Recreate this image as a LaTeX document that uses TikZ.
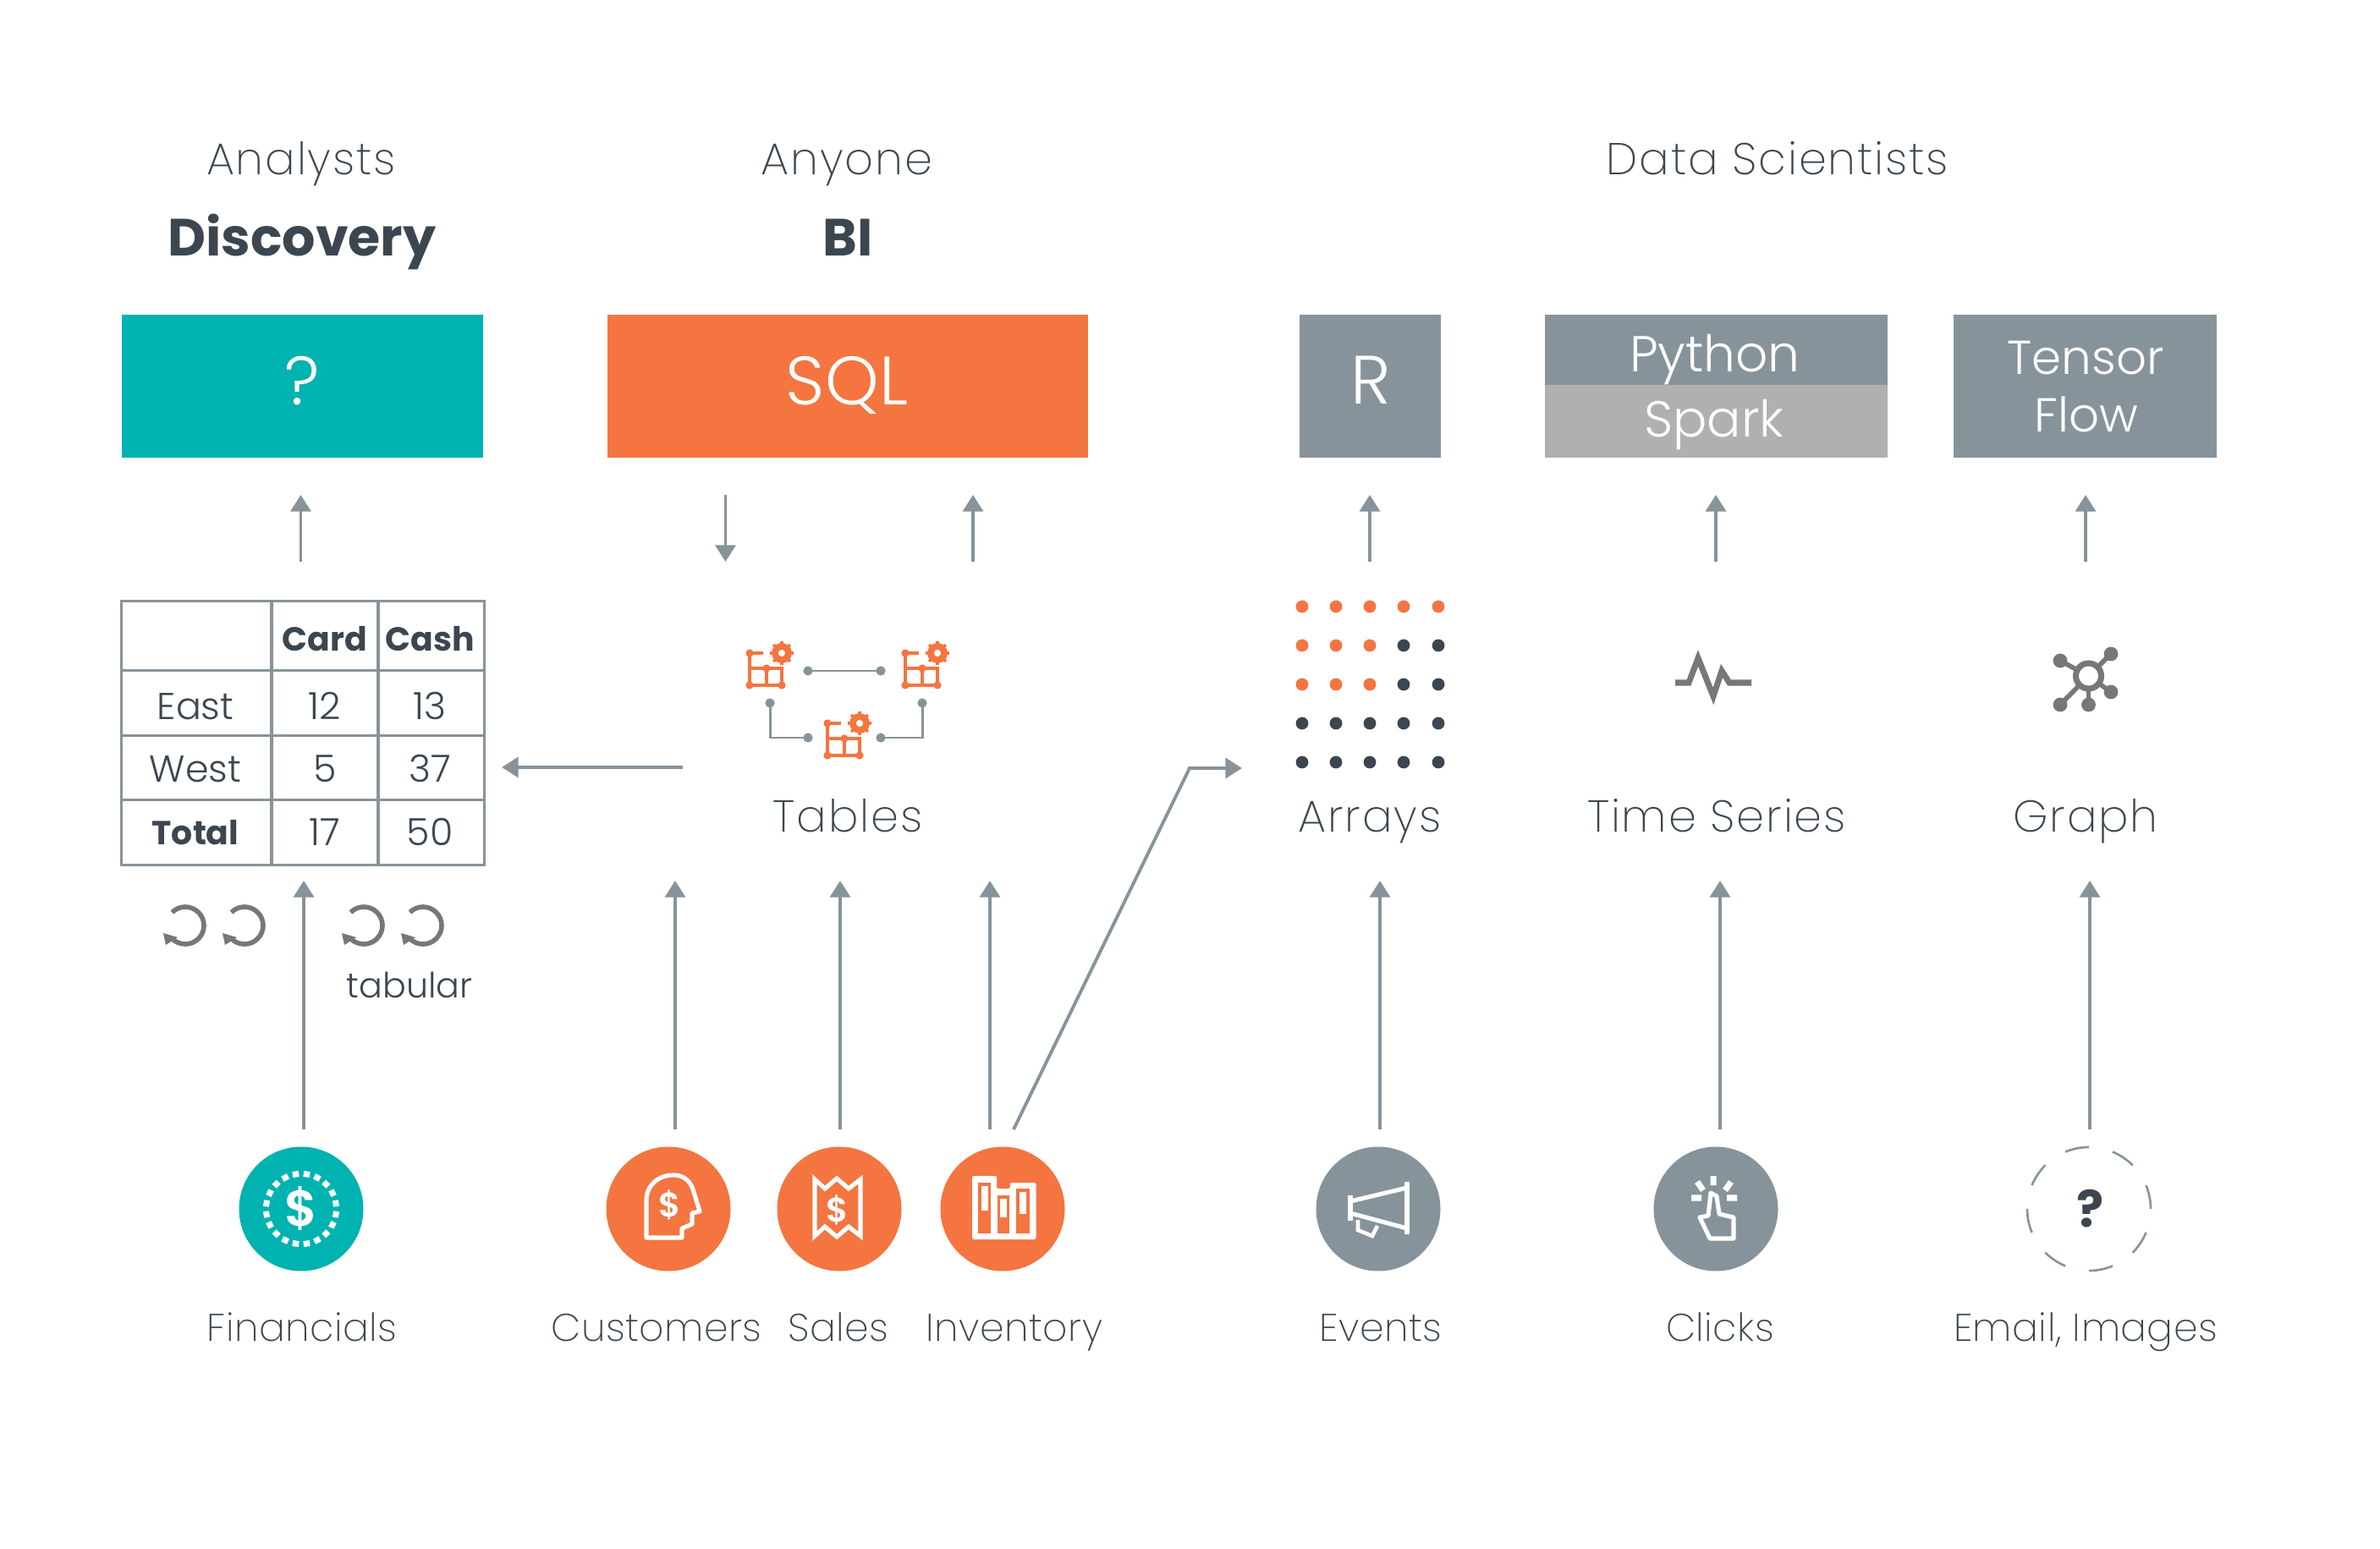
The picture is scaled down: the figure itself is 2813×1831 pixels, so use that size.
\documentclass[tikz,border=0pt]{standalone}
\usepackage{fontspec}
\setmainfont{Poppins}[UprightFont=* Light,BoldFont=* Bold]
\newfontfamily\medfont{Poppins}[UprightFont=*]
\newfontfamily\sbfont{Poppins}[UprightFont=* SemiBold]
\newfontfamily\xlfont{Poppins}[UprightFont=* ExtraLight,LetterSpace=3.5]
\newfontfamily\xlbfont{Poppins}[UprightFont=* ExtraLight,LetterSpace=1]
\usetikzlibrary{arrows.meta}
\definecolor{teal}{HTML}{00B3B0}
\definecolor{orng}{HTML}{F47540}
\definecolor{slate}{HTML}{87939A}
\definecolor{lgray}{HTML}{B0B0B0}
\definecolor{ink}{HTML}{3B4650}
\definecolor{mgray}{HTML}{777777}
\newcommand{\fsz}[1]{\fontsize{#1pt}{#1pt}\selectfont}
\tikzset{
  txt/.style={anchor=base,inner sep=0},
  head/.style={txt,text=ink,font=\xlfont\fsz{15}},
  headb/.style={txt,text=ink,font=\fsz{17.6}\bfseries},
  lab/.style={txt,text=ink,font=\xlfont\fsz{15}},
  lowl/.style={txt,text=ink,font=\xlbfont\fsz{13}},
  cell/.style={txt,text=ink,font=\fsz{12.6}},
  cellb/.style={txt,text=ink,font=\fsz{11.2}\bfseries},
  boxt/.style={txt,text=white,font=\fsz{23}},
  boxs/.style={txt,text=white,font=\fsz{17}},
  arr/.style={draw=slate,line width=1.1pt,-{Triangle[length=5.6pt,width=6.8pt]}},
  thin/.style={draw=slate,line width=.85pt},
  wl/.style={draw=white,line width=1.45pt,line join=miter},
  orl/.style={draw=orng,line width=.95pt},
  recy/.style={draw=mgray,line width=1.6pt},
  tline/.style={slate,line width=1.05pt},
  dollar/.style={text=white,inner sep=0,font=\sbfont\fsz{11.5}},
}
\newcommand{\tblicon}[2]{% x, y of lower-left corner
  \begin{scope}[shift={(#1,#2)}]
    \draw[orl] (16,-38)--(0,-38)--(0,0)--(38,0)--(38,-20)--(0,-20) (20,0)--(20,-20);
    \foreach \a/\b in {0/-38,0/0,38/0,20/-20}{\fill[orng] (\a,\b) circle (4.6);}
    \foreach \t in {0,45,...,315}{\draw[orng,line width=1pt] (38,-38)++(\t:9)--++(\t:5);}
    \draw[orng,line width=2.2pt] (38,-38) circle (8);
  \end{scope}
}
\begin{document}
\begin{tikzpicture}[x=0.2845pt,y=-0.2845pt]
\useasboundingbox[fill=white] (0,0) rectangle (2813,1831);
% headers
\node[head] (hA) at (356,206.5) {Analysts};
\node[head] (hB) at (1001,206.5) {Anyone};
\node[head] (hC) at (2101,206.5) {Data Scientists};
\node[headb] (hD) at (357,303) {Discovery};
\node[headb] (hE) at (1002,303) {BI};
% top boxes
\fill[teal] (143.5,372) rectangle (570.5,541);
\fill[orng] (717.5,372) rectangle (1286,541);
\fill[slate] (1536,372) rectangle (1703,541);
\fill[slate] (1826,372) rectangle (2231,455);
\fill[lgray] (1826,455) rectangle (2231,541);
\fill[slate] (2309,372) rectangle (2620,541);
\node[boxt] (bQ) at (357,479) {?};
\node[boxt] (bS) at (1001,479) {SQL};
\node[boxt] (bR) at (1620,478) {R};
\node[boxs] (bP) at (2027,440) {Python};
\node[boxs] (bK) at (2026,517) {Spark};
\node[boxs,font=\fsz{16}] (bT) at (2465,443) {Tensor};
\node[boxs,font=\fsz{16}] (bF) at (2466,511) {Flow};
% short arrows
\foreach \n/\x in {a/355.5,b/1150,c/1619,d/2028,e/2465}{
  \coordinate (s\n) at (\x,664);
  \coordinate (t\n) at (\x,585);
  \draw[arr] (s\n)--(t\n);
}
\coordinate (sf) at (857.5,585); \coordinate (tf) at (857.5,664);
\draw[arr] (sf)--(tf);
% table
\draw[tline] (143.5,710.5) rectangle (572.5,1022.5);
\foreach \y in {792.5,869.5,945.5}{\draw[tline] (143.5,\y)--(572.5,\y);}
\foreach \x in {321,447}{\draw[tline] (\x,710.5)--(\x,1022.5);}
\node[cellb] (c1) at (384,769.5) {Card};
\node[cellb] (c2) at (508,769.5) {Cash};
\node[cell] (r1) at (231,850.5) {East};
\node[cell] (c3) at (384,850.5) {12};
\node[cell] (c4) at (508,850.5) {13};
\node[cell] (r2) at (231,924.5) {West};
\node[cell] (c5) at (384,924.5) {5};
\node[cell] (c6) at (508,924.5) {37};
\node[cellb] (r3) at (231,999) {Total};
\node[cell] (c7) at (384,999.5) {17};
\node[cell] (c8) at (508,999.5) {50};
\coordinate (lS) at (807,907); \coordinate (lT) at (593,907);
\draw[arr] (lS)--(lT);
% recycle
\foreach \x in {219,289,430,500}{
  \draw[recy] (\x,1094)++(-135:22) arc[start angle=-135,delta angle=270,radius=22];
  \fill[mgray] (\x,1094)++(-26,9)--++(3,14)--++(14,-9)--cycle;
}
\node[cell,font=\fsz{11.7}] (tb) at (484,1180) {tabular};
% tables icon
\tblicon{886}{810}
\tblicon{1070}{810}
\tblicon{978}{893}
\coordinate (k1) at (955,793); \coordinate (k2) at (1041,793);
\coordinate (k3) at (910,831); \coordinate (k4) at (955,872);
\coordinate (k5) at (1090,831); \coordinate (k6) at (1041,872);
\draw[thin] (k1)--(k2);
\draw[thin] (k3)|-(k4);
\draw[thin] (k5)|-(k6);
\foreach \k in {k1,k2,k3,k4,k5,k6}{\fill[slate] (\k) circle (5.6);}
\node[lab] (lTb) at (1002,983.5) {Tables};
% arrays
\foreach \i/\x in {0/1539,1/1579,2/1619,3/1659,4/1700}{
 \foreach \j/\y in {0/717,1/763,2/809,3/855,4/901}{
  \pgfmathtruncatemacro{\isor}{(\j==0 || (\j<3 && \i<3)) ? 1 : 0}
  \ifnum\isor=1 \fill[orng] (\x,\y) circle (7.4);\else \fill[ink] (\x,\y) circle (7.4);\fi
 }}
\node[lab] (lAr) at (1619,983.5) {Arrays};
% pulse
\draw[mgray,line width=2pt,miter limit=10] (1980,807)--(1996,807)--(2007,778)--(2025,823)--(2035,793)--(2044,807)--(2070,807);
\node[lab] (lTs) at (2029,983.5) {Time Series};
% graph
\foreach \a/\b in {2435/781,2495/773,2495/818,2468.5/833,2435/833}{
  \draw[mgray,line width=1.6pt] (2468.5,799)--(\a,\b);
  \fill[mgray] (\a,\b) circle (8.4);
}
\draw[mgray,line width=2pt,fill=white] (2468.5,799) circle (15);
\node[lab] (lGr) at (2465,983.5) {Graph};
% long arrows
\foreach \n/\x in {g/359,h/798,i/993,j/1170,k/1631,l/2033,m/2470}{
  \coordinate (s\n) at (\x,1335);
  \coordinate (t\n) at (\x,1041);
  \draw[arr] (s\n)--(t\n);
}
\coordinate (eS) at (1198,1335); \coordinate (eC) at (1406,908); \coordinate (eT) at (1468,908);
\draw[arr] (eS)--(eC)--(eT);
\begin{scope}[shift={(0,2)}]
% circles
\fill[teal] (356,1427) circle (73.5);
\foreach \x in {790,992,1185}{\fill[orng] (\x,1427) circle (73.5);}
\foreach \x in {1629,2028}{\fill[slate] (\x,1427) circle (73.5);}
\foreach \k in {0,...,7}{
  \draw[slate,line width=.75pt] (2469,1427)++({-45*\k}:73) arc[start angle={-45*\k},delta angle=-22.5,radius=73];
}
% financial
\foreach \k in {0,...,19}{
  \draw[white,line width=2.1pt] (356,1427)++({18*\k+9}:38)--++({18*\k+9}:7);
}
\node[dollar,font=\sbfont\fsz{17}] (d1) at (356,1427) {\$};
% customers
\draw[wl,line join=round] (764,1461)--(764,1417)..controls (764,1399) and (778,1387) .. (796,1387)..controls (812,1387) and (818,1399) .. (820,1407)--(827,1430)--(818,1432)--(818,1445)--(806,1450)--(806,1461)--cycle;
\node[dollar] (d2) at (792,1422) {\$};
% sales
\draw[wl] (963,1392)--(975,1403)--(989,1391)--(1003,1403)--(1017,1392)--(1017,1459)--(1003,1448)--(989,1460)--(975,1448)--(963,1459)--cycle;
\node[dollar] (d3) at (990,1428) {\$};
% inventory
\fill[white,rounded corners=.6pt] (1149,1388)--(1178,1388)--(1178,1403)--(1194,1403)--(1194,1396)--(1224.5,1396)--(1224.5,1463)--(1149,1463)--cycle;
\fill[orng] (1156,1396) rectangle (1171,1455.7);
\fill[orng] (1179,1411) rectangle (1193,1455.7);
\fill[orng] (1201,1403) rectangle (1216.5,1455.7);
\fill[white] (1159.6,1400) rectangle (1167.6,1429);
\fill[white] (1182.4,1414.7) rectangle (1190.4,1437);
\fill[white] (1204.5,1407) rectangle (1212.5,1433);
% megaphone
\draw[wl] (1663,1395)--(1663,1457);
\draw[wl] (1596,1411)--(1596,1441);
\draw[wl] (1596,1418)--(1663,1402);
\draw[wl] (1596,1432)--(1663,1450);
\draw[wl,line width=1.3pt] (1605,1440)--(1605,1452)--(1622,1459)--(1628,1447);
% clicks
\draw[wl,line join=round] (2021,1462)--(2049,1462)--(2049,1437)--(2032,1433)--(2029,1412)--(2022,1408)--(2019,1435)--(2009,1437)--cycle;
\draw[white,line width=2pt] (2025,1388)--(2025,1399) (2006,1395)--(2013,1405) (2046,1395)--(2039,1405) (1999,1414)--(2011,1414) (2041,1414)--(2053,1414);
% question
\node[text=ink,font=\fsz{17}\bfseries,inner sep=0] (q1) at (2471,1427) {?};
\end{scope}
% labels
\foreach \n/\x/\t in {f1/357/Financials,f2/776/Customers,f3/991/Sales,f4/1199/Inventory,f5/1632/Events,f6/2033/Clicks,f7/2465/{Email, Images}}{
  \node[lowl] (\n) at (\x,1585.5) {\t};
}
\end{tikzpicture}
\end{document}
